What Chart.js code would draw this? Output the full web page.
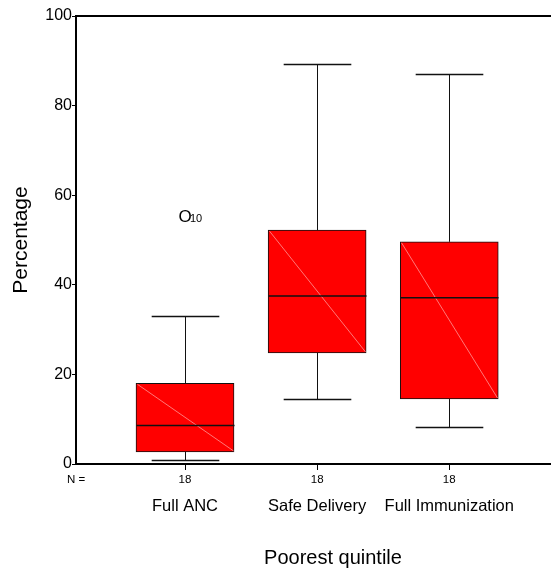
<!DOCTYPE html>
<html>
<head>
<meta charset="utf-8">
<script src="https://cdn.jsdelivr.net/npm/chart.js@4.4.1/dist/chart.umd.min.js"></script>
<style>
  html, body { margin: 0; padding: 0; background: #fff; }
  #wrap { width: 551px; height: 570px; }
</style>
</head>
<body>
<div id="wrap"><canvas id="boxChart" width="551" height="570"></canvas></div>
<script>
// data
const categories = ['Full ANC', 'Safe Delivery', 'Full Immunization'];
const counts = [18, 18, 18];
const whiskerLow = [0.9, 14.5, 8.3];
const q1 = [2.7, 24.8, 14.5];
const median = [8.6, 37.5, 37.1];
const q3 = [18.0, 52.2, 49.6];
const whiskerHigh = [33.0, 89.3, 87.1];
const outlierGroup = [0];
const outlierValue = [55.0];
const outlierLabel = ['10'];
const yTicks = [0, 20, 40, 60, 80, 100];
const xTitle = 'Poorest quintile';

const FONT = '"Liberation Sans", Arial, sans-serif';
const X_MIN = 0.175, X_MAX = 3.77;

// snap 1px lines onto the pixel grid so they stay sharp
const crisp = v => Math.round(v) + 0.5;

// whiskers, median, caps, outliers
const boxPlotExtras = {
  id: 'boxPlotExtras',
  afterDatasetsDraw(chart) {
    const { ctx, chartArea, scales: { x, y } } = chart;
    const meta = chart.getDatasetMeta(0);
    const line = (x1, y1, x2, y2) => {
      ctx.beginPath(); ctx.moveTo(x1, y1); ctx.lineTo(x2, y2); ctx.stroke();
    };
    ctx.save();

    // top frame line
    ctx.strokeStyle = '#000';
    ctx.lineWidth = 2;
    line(chartArea.left - 1, chartArea.top, chart.width, chartArea.top);

    categories.forEach((c, i) => {
      const bar = meta.data[i];
      const cx = crisp(x.getPixelForValue(i + 1));
      const half = bar.width / 2;
      const capHalf = half * 0.69;
      const yTop = y.getPixelForValue(q3[i]);
      const yBot = y.getPixelForValue(q1[i]);

      // faint diagonal seen in the boxes
      ctx.strokeStyle = 'rgba(255,150,150,0.8)';
      ctx.lineWidth = 1;
      line(cx - half + 1, yTop + 1, cx + half - 1, yBot - 1);

      ctx.strokeStyle = '#111';
      ctx.lineWidth = 1;
      const yHi = crisp(y.getPixelForValue(whiskerHigh[i]));
      const yLo = crisp(y.getPixelForValue(whiskerLow[i]));
      line(cx, yTop, cx, yHi);
      line(cx, yBot, cx, yLo);
      ctx.lineWidth = 1.5;
      line(cx - capHalf, yHi, cx + capHalf, yHi);
      line(cx - capHalf, yLo, cx + capHalf, yLo);

      const yMed = y.getPixelForValue(median[i]);
      line(cx - half, yMed, cx + half, yMed);

      // tick mark under each group
      ctx.lineWidth = 1;
      ctx.strokeStyle = '#000';
      line(cx, chartArea.bottom + 1, cx, chartArea.bottom + 6);
    });

    // outliers
    ctx.fillStyle = '#000';
    ctx.textBaseline = 'middle';
    outlierGroup.forEach((g, k) => {
      const cx = x.getPixelForValue(g + 1);
      const cy = y.getPixelForValue(outlierValue[k]);
      ctx.font = '17px ' + FONT;
      ctx.textAlign = 'center';
      ctx.fillText('O', cx, cy);
      ctx.font = '11px ' + FONT;
      ctx.textAlign = 'left';
      ctx.fillText(outlierLabel[k], cx + 5, cy + 1);
    });

    // x axis title, centred a bit right of the plot like the original
    ctx.font = '20px ' + FONT;
    ctx.textAlign = 'center';
    ctx.fillText(xTitle, x.getPixelForValue(2.12), 558);
    ctx.restore();
  }
};

const ctx = document.getElementById('boxChart').getContext('2d');
new Chart(ctx, {
  type: 'bar',
  data: {
    datasets: [
      {
        label: 'IQR',
        data: categories.map((c, i) => ({ x: i + 1, y: [q1[i], q3[i]] })),
        backgroundColor: '#ff0000',
        borderColor: '#111',
        borderWidth: 1,
        borderSkipped: false,
        barThickness: 98,
      }
    ],
  },
  options: {
    responsive: false,
    animation: false,
    layout: { padding: { top: 16, left: 0, right: 0, bottom: 0 } },
    plugins: {
      legend: { display: false },
      tooltip: { enabled: false },
    },
    scales: {
      x: {
        type: 'linear',
        position: 'bottom',
        offset: false,
        min: X_MIN,
        max: X_MAX,
        afterBuildTicks: s => { s.ticks = [{ value: X_MIN }].concat(counts.map((c, i) => ({ value: i + 1 }))); },
        afterFit: s => { s.height = 28; },
        ticks: {
          autoSkip: false,
          maxRotation: 0,
          padding: 3,
          color: '#000',
          font: { family: FONT, size: 11.5 },
          callback: (v, idx) => idx === 0 ? 'N =' : String(counts[idx - 1]),
        },
        grid: {
          display: true,
          offset: false,
          drawOnChartArea: false,
          drawTicks: true,
          tickLength: 6,
          tickColor: 'rgba(0,0,0,0)',
        },
        border: { display: true, color: '#000', width: 2 },
      },
      x2: {
        type: 'linear',
        position: 'bottom',
        offset: false,
        min: X_MIN,
        max: X_MAX,
        afterBuildTicks: s => { s.ticks = categories.map((c, i) => ({ value: i + 1 })); },
        afterFit: s => { s.height = 78; },
        ticks: {
          autoSkip: false,
          maxRotation: 0,
          padding: -3,
          color: '#000',
          font: { family: FONT, size: 16.5 },
          callback: (v, idx) => categories[idx],
        },
        grid: { display: false, offset: false },
        border: { display: false },
      },
      y: {
        min: 0,
        max: 100,
        afterBuildTicks: s => { s.ticks = yTicks.map(v => ({ value: v })); },
        afterFit: s => { s.width = 76; },
        ticks: {
          padding: 0,
          color: '#000',
          font: { family: FONT, size: 16 },
        },
        grid: {
          display: true,
          drawOnChartArea: false,
          drawTicks: true,
          tickLength: 4,
          tickColor: '#000',
        },
        border: { display: true, color: '#000', width: 2 },
        title: {
          display: true,
          text: 'Percentage',
          color: '#000',
          font: { family: FONT, size: 21 },
          padding: { top: 9, bottom: 0 },
        },
      },
    },
  },
  plugins: [boxPlotExtras],
});
</script>
</body>
</html>
